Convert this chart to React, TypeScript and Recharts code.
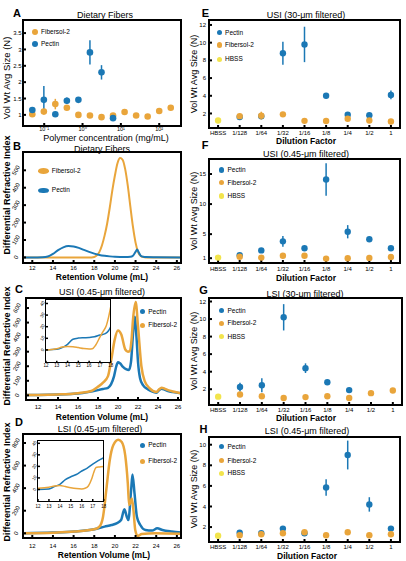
import { ScatterChart, Scatter, LineChart, Line, XAxis, YAxis, ErrorBar } from "recharts";

const BLUE = "#1b78b5";
const ORANGE = "#e9a53b";
const YELLOW = "#f2e44c";
const FONT = "'Liberation Sans', Arial, Helvetica, sans-serif";

// Panel A: size vs polymer concentration
const concentrations = [0.049, 0.098, 0.195, 0.39, 0.78, 1.56, 3.125, 6.25, 12.5, 25, 50, 100, 200];
const fiberA = [1.02, 1.1, 1.33, 1.22, 1.0, 0.98, 0.93, 0.98, 1.09, 0.98, 0.95, 1.12, 1.22];
const fiberAErr = [0.04, 0.05, 0.16, 0.06, 0.03, 0.03, 0.03, 0.05, 0.04, 0.03, 0.03, 0.04, 0.05];
const pectinA = [1.15, 1.46, 1.02, 1.43, 1.46, 2.91, 2.3, 0.9];
const pectinAErr = [0.06, 0.42, 0.04, 0.1, 0.07, 0.37, 0.22, 0.06];
const logTicks = [0.1, 1, 10, 100];
const logTickLabels = ["10⁻¹", "10⁰", "10¹", "10²"];
const sizeTicksA = [1, 1.5, 2, 2.5, 3, 3.5];

// Panel B: dietary fibers chromatogram
const bFiberX = [11.1, 17.5, 18.0, 18.25, 18.5, 18.75, 19.0, 19.25, 19.5, 19.75, 20.0, 20.25, 20.5, 20.75, 21.0, 21.25, 21.5, 21.75, 22.0, 22.25, 22.5, 22.75, 23.0, 26.4];
const bFiberY = [0, 0, 3, 12, 32, 70, 125, 195, 285, 385, 470, 540, 570, 560, 505, 410, 290, 175, 85, 30, 8, 2, 0, 0];
const bPectinX = [11.1, 12, 13, 13.5, 14, 14.5, 15, 15.5, 16, 16.5, 17, 17.5, 18, 18.5, 19, 19.5, 20, 21, 21.5, 21.75, 22, 22.15, 22.3, 22.5, 22.75, 23, 24, 26.4];
const bPectinY = [0, 0, 1, 5, 20, 42, 58, 65, 63, 55, 43, 32, 22, 14, 9, 6, 4, 3, 4, 10, 32, 45, 30, 10, 4, 2, 1, 0];

// Panel C: USI 0.45 um
const cPectinX = [10.8, 12, 14, 16, 17, 18, 18.5, 19, 19.3, 19.6, 19.83, 20.0, 20.2, 20.5, 20.8, 21.1, 21.3, 21.5, 21.67, 21.85, 22.0, 22.2, 22.5, 23.0, 23.5, 23.85, 24.1, 24.35, 24.7, 25.0, 25.5, 26.3];
const cPectinY = [3, 3, 5, 12, 22, 36, 44, 52, 75, 130, 200, 228, 220, 195, 180, 175, 230, 420, 540, 400, 230, 120, 70, 41, 25, 18, 35, 46, 38, 30, 22, 14];
const cFiberX = [10.8, 12, 14, 16, 17.33, 18.0, 18.5, 19.0, 19.33, 19.67, 20.0, 20.33, 20.73, 21.0, 21.17, 21.35, 21.5, 21.77, 22.0, 22.34, 22.67, 23.2, 23.85, 24.1, 24.35, 24.7, 25.0, 25.5, 26.3];
const cFiberY = [3, 3, 6, 15, 30, 59, 87, 132, 246, 383, 445, 418, 315, 300, 304, 380, 520, 641, 475, 200, 98, 46, 23, 40, 53, 45, 36, 26, 14];
const ciPectinX = [12, 13, 13.5, 14, 14.5, 15, 15.5, 16, 16.5, 17, 17.5, 17.8, 18];
const ciPectinY = [0, 0.5, 2, 4.8, 9.2, 10.2, 10.5, 10.7, 11.3, 12.8, 14, 16.5, 20];
const ciFiberX = [12, 13, 13.5, 14, 14.5, 15, 15.5, 16, 16.3, 16.6, 17, 17.3, 17.6, 17.8, 18];
const ciFiberY = [0, 1, 2.5, 3, 2.8, 2, 1.2, 0.8, 1, 4, 11, 16, 21, 28, 37];

// Panel D: LSI 0.45 um
const dPectinX = [11.1, 14, 16.1, 18.0, 19.0, 19.67, 20.16, 20.6, 20.92, 21.15, 21.3, 21.57, 21.7, 21.9, 22.13, 22.46, 22.95, 23.6, 24.1, 24.6, 25.5, 26.4];
const dPectinY = [0, 6, 15, 35, 59, 73, 88, 118, 212, 147, 118, 382, 520, 353, 147, 73, 29, 24, 44, 29, 15, 6];
const dFiberX = [11.1, 14, 16.1, 18.0, 18.5, 18.85, 19.2, 19.5, 19.84, 20.33, 20.66, 21.0, 21.25, 21.38, 21.5, 21.64, 21.8, 21.97, 22.2, 22.6, 23.9, 26.4];
const dFiberY = [0, 5, 15, 35, 59, 147, 412, 647, 780, 830, 809, 690, 441, 250, 270, 309, 200, 29, -24, -6, 0, -5];
const diPectinX = [12, 13, 13.5, 14, 14.5, 15, 15.5, 16, 16.5, 17, 17.5, 18];
const diPectinY = [0, 0.5, 2.5, 4.5, 8.5, 11, 13, 16, 18.5, 22, 25, 27.5];
const diFiberX = [12, 13, 13.5, 14, 14.5, 15, 15.5, 16, 16.3, 16.6, 16.9, 17.1, 17.3, 17.6, 18];
const diFiberY = [1, 2, 3, 3.5, 2.5, 1.5, 0.8, 0.5, 1, 3, 9, 15, 19, 19.5, 20];

const rvTicks = [12, 14, 16, 18, 20, 22, 24, 26];
const insetXTicks = [12, 13, 14, 15, 16, 17, 18];
const insetYTicks = [0, 10, 20, 30, 40];

// Panels E-H: size vs dilution
const dilutionLabels = ["HBSS", "1/128", "1/64", "1/32", "1/16", "1/8", "1/4", "1/2", "1"];
const dilutionIdx = [0, 1, 2, 3, 4, 5, 6, 7, 8];

const pectinE = [null, 1.6, 1.7, 8.8, 9.8, 4.0, 1.85, 1.8, 4.1];
const pectinEErr = [0, 0.2, 0.2, 1.3, 2.0, 0.3, 0.1, 0.1, 0.5];
const fiberE = [null, 1.7, 1.75, 1.9, 1.17, 1.15, 1.4, 1.2, 1.1];
const fiberEErr = [0, 0.25, 0.45, 0.1, 0.05, 0.05, 0.1, 0.05, 0.05];
const hbssE = [1.2, null, null, null, null, null, null, null, null];

const pectinF = [null, 1.5, 2.3, 3.8, 2.65, 14.1, 5.4, 4.15, 2.65];
const pectinFErr = [0, 0.2, 0.2, 0.9, 0.2, 2.7, 1.1, 0.2, 0.2];
const fiberF = [null, 1.25, 1.1, 1.4, 1.4, 0.93, 1.0, 1.05, 1.2];
const hbssF = [1.1, null, null, null, null, null, null, null, null];

const pectinG = [null, 2.25, 2.45, 10.2, 4.4, 2.8, 1.9, null, null];
const pectinGErr = [0, 0.5, 0.8, 1.5, 0.55, 0.1, 0.1, 0, 0];
const fiberG = [null, 1.4, 1.2, 1.0, 1.1, 1.2, 1.0, 1.55, 1.85];
const hbssG = [1.15, null, null, null, null, null, null, null, null];

const pectinH = [null, 1.45, 1.4, 1.85, 1.4, 5.85, 9.0, 4.2, 1.85];
const pectinHErr = [0, 0.1, 0.1, 0.2, 0.1, 0.8, 1.4, 0.7, 0.1];
const fiberH = [null, 1.2, 1.3, 1.4, 1.5, 1.2, 1.5, 1.2, 1.3];
const hbssH = [1.15, null, null, null, null, null, null, null, null];

type Box = { l: number; t: number; r: number; b: number };
type Pt = { x: number; y: number; err: number };

const YW = 26;
const XH = 18;
const RM = 6; // spare room right of the plot for the last tick label

const toLine = (xs: number[], ys: number[]) => xs.map((x, i) => ({ x, y: ys[i] }));
const toDots = (xs: number[], ys: (number | null)[], errs?: number[]): Pt[] =>
  ys
    .map((y, i) => ({ x: xs[i], y: y as number, err: errs ? errs[i] : 0 }))
    .filter((p) => p.y !== null);

const Txt = ({ x, y, size, bold, rot, children }: any) => (
  <div
    style={{
      position: "absolute",
      left: x,
      top: y,
      transform: `translate(-50%, -50%)${rot ? " rotate(-90deg)" : ""}`,
      fontSize: size,
      fontWeight: bold ? "bold" : "normal",
      fontFamily: FONT,
      whiteSpace: "nowrap",
      lineHeight: 1,
      color: "#000",
    }}
  >
    {children}
  </div>
);

const Frame = ({ box, w = 2 }: { box: Box; w?: number }) => (
  <div
    style={{
      position: "absolute",
      left: box.l - w / 2,
      top: box.t - w / 2,
      width: box.r - box.l + w,
      height: box.b - box.t + w,
      border: `${w}px solid #000`,
      boxSizing: "border-box",
      pointerEvents: "none",
    }}
  />
);

const LegendItem = ({ x, y, color, label, d = 5.5, wide = false, size = 6.5 }: any) => (
  <>
    <div
      style={{
        position: "absolute",
        left: x - (wide ? d : d / 2),
        top: y - d / 2,
        width: wide ? d * 2 : d,
        height: d,
        borderRadius: "50%",
        background: color,
      }}
    />
    <div
      style={{
        position: "absolute",
        left: x + (wide ? d + 3 : d / 2 + 3),
        top: y,
        transform: "translateY(-50%)",
        fontSize: size,
        fontFamily: FONT,
        lineHeight: 1,
        whiteSpace: "nowrap",
      }}
    >
      {label}
    </div>
  </>
);

const rotTick = (size: number) => (props: any) => {
  const { x, y, payload } = props;
  return (
    <text
      x={x}
      y={y}
      transform={`rotate(-60 ${x} ${y})`}
      textAnchor="middle"
      dominantBaseline="central"
      fontSize={size}
      fontFamily={FONT}
      fill="#000"
    >
      {payload.value}
    </text>
  );
};

const place = (box: Box): React.CSSProperties => ({
  position: "absolute",
  left: box.l - YW,
  top: box.t,
});

const tickStyle = (size: number) => ({ fontSize: size, fill: "#000", fontFamily: FONT });
const tickLine = { stroke: "#000", strokeWidth: 2 };

function CurvePanel({ box, xDomain, yDomain, xTicks, yTicks, xMargin, yMargin, series, font = 6, inset = false }: any) {
  const ts = inset ? -2 : -3;
  return (
    <div style={place(box)}>
      <LineChart
        width={box.r - box.l + YW + RM}
        height={box.b - box.t + XH}
        margin={{ top: 0, right: RM, bottom: 0, left: 0 }}
      >
        <XAxis
          type="number"
          dataKey="x"
          domain={xDomain}
          ticks={xTicks}
          interval={0}
          height={XH}
          axisLine={false}
          tickLine={{ stroke: "#000", strokeWidth: inset ? 1.5 : 2 }}
          tickSize={ts}
          tickMargin={xMargin}
          tick={tickStyle(font)}
          allowDataOverflow
        />
        <YAxis
          type="number"
          domain={yDomain}
          ticks={yTicks}
          interval={0}
          width={YW}
          axisLine={false}
          tickLine={{ stroke: "#000", strokeWidth: inset ? 1.5 : 2 }}
          tickSize={ts}
          tickMargin={yMargin}
          tick={rotTick(font)}
          allowDataOverflow
        />
        {series.map((s: any, i: number) => (
          <Line
            key={i}
            data={s.data}
            dataKey="y"
            type="monotone"
            stroke={s.color}
            strokeWidth={s.width}
            dot={false}
            isAnimationActive={false}
          />
        ))}
      </LineChart>
    </div>
  );
}

function DotPanel({ box, xDomain, yDomain, xTicks, yTicks, xFormat, log = false, xMargin, yMargin, series, r = 3.2 }: any) {
  return (
    <div style={place(box)}>
      <ScatterChart
        width={box.r - box.l + YW + RM}
        height={box.b - box.t + XH}
        margin={{ top: 0, right: RM, bottom: 0, left: 0 }}
      >
        <XAxis
          type="number"
          dataKey="x"
          scale={log ? "log" : "auto"}
          domain={xDomain}
          ticks={xTicks}
          interval={0}
          tickFormatter={xFormat}
          height={XH}
          axisLine={false}
          tickLine={tickLine}
          tickSize={-3}
          tickMargin={xMargin}
          tick={tickStyle(log ? 5.5 : 6)}
          allowDataOverflow
        />
        <YAxis
          type="number"
          dataKey="y"
          domain={yDomain}
          ticks={yTicks}
          interval={0}
          width={YW}
          axisLine={false}
          tickLine={tickLine}
          tickSize={-3}
          tickMargin={yMargin}
          tick={tickStyle(6)}
          allowDataOverflow
        />
        {series.map((s: any, i: number) => (
          <Scatter
            key={i}
            data={s.data}
            fill={s.color}
            isAnimationActive={false}
            shape={(p: any) => <circle cx={p.cx} cy={p.cy} r={r} fill={s.color} />}
          >
            <ErrorBar
              dataKey="err"
              direction="y"
              width={0}
              stroke={s.color}
              strokeWidth={1.5}
              isAnimationActive={false}
            />
          </Scatter>
        ))}
      </ScatterChart>
    </div>
  );
}

const boxA: Box = { l: 23, t: 20, r: 181, b: 126 };
const boxB: Box = { l: 23, t: 152, r: 181, b: 263 };
const boxC: Box = { l: 26, t: 298, r: 181, b: 400 };
const boxCi: Box = { l: 46, t: 300, r: 110.7, b: 362.7 };
const boxD: Box = { l: 23, t: 434, r: 181, b: 538 };
const boxDi: Box = { l: 38, t: 441, r: 103.7, b: 501 };
const boxE: Box = { l: 209, t: 20, r: 400, b: 128 };
const boxF: Box = { l: 209, t: 159, r: 400, b: 263 };
const boxG: Box = { l: 209, t: 298, r: 402, b: 405 };
const boxH: Box = { l: 209, t: 437, r: 400, b: 542 };

const dilFmt = (v: number) => dilutionLabels[v] ?? "";
const logFmt = (v: number) => logTickLabels[logTicks.indexOf(v)] ?? "";

function dilutionSeries(p: (number | null)[], pe: number[], f: (number | null)[], fe: number[] | undefined, h: (number | null)[]) {
  return [
    { data: toDots(dilutionIdx, p, pe), color: BLUE },
    { data: toDots(dilutionIdx, f, fe), color: ORANGE },
    { data: toDots(dilutionIdx, h), color: YELLOW },
  ];
}

export default function App() {
  return (
    <div style={{ position: "relative", width: 406, height: 561, background: "#fff", overflow: "hidden" }}>
      <style>{"body{margin:0}"}</style>

      {/* A */}
      <DotPanel
        box={boxA}
        xDomain={[0.028, 370]}
        yDomain={[0.66, 3.9]}
        xTicks={logTicks}
        yTicks={sizeTicksA}
        xFormat={logFmt}
        log
        xMargin={4.5}
        yMargin={4.5}
        r={3.3}
        series={[
          { data: toDots(concentrations, fiberA, fiberAErr), color: ORANGE },
          { data: toDots(concentrations, pectinA, pectinAErr), color: BLUE },
        ]}
      />
      <Frame box={boxA} />
      <LegendItem x={35} y={32.3} color={ORANGE} label="Fibersol-2" d={6} />
      <LegendItem x={35} y={44.3} color={BLUE} label="Pectin" d={6} />
      <Txt x={17} y={13} size={11} bold>A</Txt>
      <Txt x={105} y={15} size={9}>Dietary Fibers</Txt>
      <Txt x={106} y={138} size={9}>Polymer concentration (mg/mL)</Txt>
      <Txt x={7} y={78} size={9.5} rot>Vol Wt Avg Size (N)</Txt>

      {/* B */}
      <CurvePanel
        box={boxB}
        xDomain={[11.1, 26.4]}
        yDomain={[-32, 605]}
        xTicks={rvTicks}
        yTicks={[0, 100, 200, 300, 400, 500]}
        xMargin={6}
        yMargin={10}
        series={[
          { data: toLine(bFiberX, bFiberY), color: ORANGE, width: 2 },
          { data: toLine(bPectinX, bPectinY), color: BLUE, width: 2 },
        ]}
      />
      <Frame box={boxB} />
      <LegendItem x={43.3} y={171} color={ORANGE} label="Fibersol-2" d={5.5} wide />
      <LegendItem x={43.3} y={190.3} color={BLUE} label="Pectin" d={5.5} wide />
      <Txt x={17} y={146} size={11} bold>B</Txt>
      <Txt x={102} y={148.5} size={9}>Dietary Fibers</Txt>
      <Txt x={102} y={277} size={8.5} bold>Retention Volume (mL)</Txt>
      <Txt x={7} y={195} size={9} bold rot>Differential Refractive Index</Txt>

      {/* C */}
      <CurvePanel
        box={boxC}
        xDomain={[10.8, 26.3]}
        yDomain={[-32, 669]}
        xTicks={rvTicks}
        yTicks={[0, 100, 200, 300, 400, 500, 600]}
        xMargin={7.5}
        yMargin={12}
        series={[
          { data: toLine(cPectinX, cPectinY), color: BLUE, width: 2.5 },
          { data: toLine(cFiberX, cFiberY), color: ORANGE, width: 2.5 },
        ]}
      />
      <Frame box={boxC} />
      <div style={{ position: "absolute", left: boxCi.l, top: boxCi.t, width: boxCi.r - boxCi.l, height: boxCi.b - boxCi.t, background: "#fff" }} />
      <CurvePanel
        box={boxCi}
        inset
        font={4.5}
        xDomain={[12, 18]}
        yDomain={[-11, 43]}
        xTicks={insetXTicks}
        yTicks={insetYTicks}
        xMargin={3.5}
        yMargin={5.5}
        series={[
          { data: toLine(ciPectinX, ciPectinY), color: BLUE, width: 1.5 },
          { data: toLine(ciFiberX, ciFiberY), color: ORANGE, width: 1.5 },
        ]}
      />
      <Frame box={boxCi} w={1.5} />
      <LegendItem x={142.7} y={311.7} color={BLUE} label="Pectin" d={5} />
      <LegendItem x={142.7} y={325} color={ORANGE} label="Fibersol-2" d={5} />
      <Txt x={19} y={289} size={11} bold>C</Txt>
      <Txt x={102} y={291.5} size={9}>USI (0.45-μm filtered)</Txt>
      <Txt x={102} y={416.5} size={8.5} bold>Retention Volume (mL)</Txt>
      <Txt x={7} y={346} size={9} bold rot>Differential Refractive Index</Txt>

      {/* D */}
      <CurvePanel
        box={boxD}
        xDomain={[11.1, 26.4]}
        yDomain={[-42, 880]}
        xTicks={rvTicks}
        yTicks={[0, 200, 400, 600, 800]}
        xMargin={9}
        yMargin={10}
        series={[
          { data: toLine(dPectinX, dPectinY), color: BLUE, width: 2.5 },
          { data: toLine(dFiberX, dFiberY), color: ORANGE, width: 2.5 },
        ]}
      />
      <Frame box={boxD} />
      <div style={{ position: "absolute", left: boxDi.l, top: boxDi.t, width: boxDi.r - boxDi.l, height: boxDi.b - boxDi.t, background: "#fff" }} />
      <CurvePanel
        box={boxDi}
        inset
        font={4.5}
        xDomain={[12, 18]}
        yDomain={[-10, 42]}
        xTicks={insetXTicks}
        yTicks={insetYTicks}
        xMargin={5.5}
        yMargin={5.5}
        series={[
          { data: toLine(diPectinX, diPectinY), color: BLUE, width: 1.5 },
          { data: toLine(diFiberX, diFiberY), color: ORANGE, width: 1.5 },
        ]}
      />
      <Frame box={boxDi} w={1.5} />
      <LegendItem x={142.7} y={445} color={BLUE} label="Pectin" d={5} />
      <LegendItem x={142.7} y={461} color={ORANGE} label="Fibersol-2" d={5} />
      <Txt x={19} y={422} size={11} bold>D</Txt>
      <Txt x={100} y={428.5} size={9}>LSI (0.45-μm filtered)</Txt>
      <Txt x={104} y={555} size={8.5} bold>Retention Volume (mL)</Txt>
      <Txt x={7} y={482} size={9} bold rot>Differential Refractive Index</Txt>

      {/* E */}
      <DotPanel
        box={boxE}
        xDomain={[-0.42, 8.42]}
        yDomain={[0.36, 12.56]}
        xTicks={dilutionIdx}
        yTicks={[2, 4, 6, 8, 10, 12]}
        xFormat={dilFmt}
        xMargin={6}
        yMargin={6}
        series={dilutionSeries(pectinE, pectinEErr, fiberE, fiberEErr, hbssE)}
      />
      <Frame box={boxE} />
      <LegendItem x={219.3} y={32.7} color={BLUE} label="Pectin" />
      <LegendItem x={219.3} y={45} color={ORANGE} label="Fibersol-2" />
      <LegendItem x={219.3} y={59.3} color={YELLOW} label="HBSS" />
      <Txt x={205.5} y={13} size={11} bold>E</Txt>
      <Txt x={306} y={15} size={9}>USI (30-μm filtered)</Txt>
      <Txt x={306} y={140.5} size={8.5} bold>Dilution Factor</Txt>
      <Txt x={194} y={74} size={9} rot>Vol Wt Avg Size (N)</Txt>

      {/* F */}
      <DotPanel
        box={boxF}
        xDomain={[-0.42, 8.42]}
        yDomain={[0.2, 17.5]}
        xTicks={dilutionIdx}
        yTicks={[1, 5, 10, 15]}
        xFormat={dilFmt}
        xMargin={6.3}
        yMargin={6}
        series={dilutionSeries(pectinF, pectinFErr, fiberF, undefined, hbssF)}
      />
      <Frame box={boxF} />
      <LegendItem x={221.7} y={170} color={BLUE} label="Pectin" />
      <LegendItem x={221.7} y={182.7} color={ORANGE} label="Fibersol-2" />
      <LegendItem x={221.7} y={196} color={YELLOW} label="HBSS" />
      <Txt x={205} y={145} size={11} bold>F</Txt>
      <Txt x={306} y={153.5} size={9}>USI (0.45-μm filtered)</Txt>
      <Txt x={306} y={278} size={8.5} bold>Dilution Factor</Txt>
      <Txt x={194} y={211} size={9} rot>Vol Wt Avg Size (N)</Txt>

      {/* G */}
      <DotPanel
        box={boxG}
        xDomain={[-0.42, 8.42]}
        yDomain={[0.2, 12.4]}
        xTicks={dilutionIdx}
        yTicks={[2, 4, 6, 8, 10, 12]}
        xFormat={dilFmt}
        xMargin={6}
        yMargin={6}
        series={dilutionSeries(pectinG, pectinGErr, fiberG, undefined, hbssG)}
      />
      <Frame box={boxG} />
      <LegendItem x={221.7} y={310.7} color={BLUE} label="Pectin" />
      <LegendItem x={221.7} y={323.3} color={ORANGE} label="Fibersol-2" />
      <LegendItem x={221.7} y={336.7} color={YELLOW} label="HBSS" />
      <Txt x={203.5} y={290} size={11} bold>G</Txt>
      <Txt x={305} y={293.5} size={9}>LSI (30-μm filtered)</Txt>
      <Txt x={306} y={418} size={8.5} bold>Dilution Factor</Txt>
      <Txt x={194} y={351} size={9} rot>Vol Wt Avg Size (N)</Txt>

      {/* H */}
      <DotPanel
        box={boxH}
        xDomain={[-0.42, 8.42]}
        yDomain={[0.55, 10.75]}
        xTicks={dilutionIdx}
        yTicks={[2, 4, 6, 8, 10]}
        xFormat={dilFmt}
        xMargin={5.5}
        yMargin={6}
        series={dilutionSeries(pectinH, pectinHErr, fiberH, undefined, hbssH)}
      />
      <Frame box={boxH} />
      <LegendItem x={221.7} y={446.7} color={BLUE} label="Pectin" />
      <LegendItem x={221.7} y={460.7} color={ORANGE} label="Fibersol-2" />
      <LegendItem x={221.7} y={473.3} color={YELLOW} label="HBSS" />
      <Txt x={203.5} y={429} size={11} bold>H</Txt>
      <Txt x={307} y={431} size={9}>LSI (0.45-μm filtered)</Txt>
      <Txt x={307} y={555.5} size={8.5} bold>Dilution Factor</Txt>
      <Txt x={194} y={489} size={9} rot>Vol Wt Avg Size (N)</Txt>
    </div>
  );
}
